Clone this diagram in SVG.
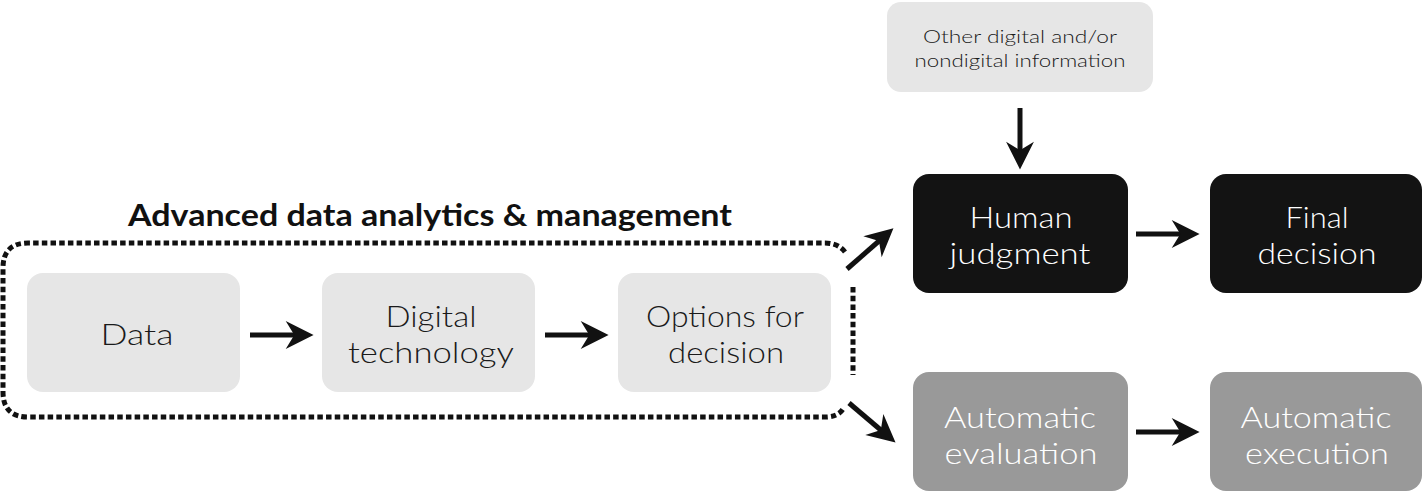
<svg xmlns="http://www.w3.org/2000/svg" width="1425" height="492" viewBox="0 0 1425 492">
<defs>
<style>
.light{fill:#e6e6e6}
.dark{fill:#131313}
.grey{fill:#999999}
.t{font-family:Lato,"Open Sans","Liberation Sans",sans-serif;font-weight:300;font-size:29px;text-anchor:middle}
.tl{fill:#1a1a1a}
.tw{fill:#ffffff}
.small{font-size:18px}
.title{font-family:Lato,"Liberation Sans",sans-serif;font-weight:700;font-size:30px;fill:#111}
.conn{stroke:#111;stroke-width:5;fill:none}
.dot{stroke:#111;stroke-width:5;fill:none;stroke-dasharray:5.5 3.2}
</style>
<marker id="ah" markerUnits="userSpaceOnUse" markerWidth="30" markerHeight="30" viewBox="-1 -14 28 28" refX="18" refY="0" orient="auto">
<path d="M0,-13 L26,0 L0,13 L8,0 z" fill="#111"/>
</marker>
</defs>
<rect width="1425" height="492" fill="#ffffff"/>

<g id="group-adm">
<text class="title" x="128" y="226" textLength="604" lengthAdjust="spacingAndGlyphs">Advanced data analytics &amp; management</text>
<path class="dot" d="M845,252 Q838,243 825,243 H28 Q3,243 3,268 V392 Q3,417 28,417 H825 Q838,417 843,409"/>
<path class="dot" d="M853,287 V375"/>
</g>

<g id="node-data">
<rect class="light" x="27" y="273" width="213" height="119" rx="16"/>
<text class="t tl" x="137" y="345" textLength="73" lengthAdjust="spacingAndGlyphs">Data</text>
</g>

<g id="node-digital">
<rect class="light" x="322" y="273" width="213" height="119" rx="16"/>
<text class="t tl" x="431" y="327" textLength="91" lengthAdjust="spacingAndGlyphs">Digital</text>
<text class="t tl" x="431" y="363" textLength="166" lengthAdjust="spacingAndGlyphs">technology</text>
</g>

<g id="node-options">
<rect class="light" x="618" y="273" width="213" height="119" rx="16"/>
<text class="t tl" x="725" y="327" textLength="158" lengthAdjust="spacingAndGlyphs">Options for</text>
<text class="t tl" x="726" y="363" textLength="116" lengthAdjust="spacingAndGlyphs">decision</text>
</g>

<g id="node-other">
<rect class="light" x="887" y="2" width="266" height="90" rx="14"/>
<text class="t tl small" x="1020" y="43" textLength="194" lengthAdjust="spacingAndGlyphs">Other digital and/or</text>
<text class="t tl small" x="1020" y="67" textLength="211" lengthAdjust="spacingAndGlyphs">nondigital information</text>
</g>

<g id="node-human">
<rect class="dark" x="913" y="174" width="215" height="119" rx="16"/>
<text class="t tw" x="1021" y="228" textLength="103" lengthAdjust="spacingAndGlyphs">Human</text>
<text class="t tw" x="1020" y="264" textLength="141" lengthAdjust="spacingAndGlyphs">judgment</text>
</g>

<g id="node-final">
<rect class="dark" x="1210" y="174" width="212" height="119" rx="16"/>
<text class="t tw" x="1317" y="228" textLength="63" lengthAdjust="spacingAndGlyphs">Final</text>
<text class="t tw" x="1317" y="264" textLength="119" lengthAdjust="spacingAndGlyphs">decision</text>
</g>

<g id="node-autoeval">
<rect class="grey" x="913" y="372" width="215" height="119" rx="16"/>
<text class="t tw" x="1020" y="428" textLength="152" lengthAdjust="spacingAndGlyphs">Automatic</text>
<text class="t tw" x="1021" y="464" textLength="153" lengthAdjust="spacingAndGlyphs">evaluation</text>
</g>

<g id="node-autoexec">
<rect class="grey" x="1210" y="372" width="212" height="119" rx="16"/>
<text class="t tw" x="1316" y="428" textLength="151" lengthAdjust="spacingAndGlyphs">Automatic</text>
<text class="t tw" x="1317" y="464" textLength="144" lengthAdjust="spacingAndGlyphs">execution</text>
</g>

<g id="connectors">
<line class="conn" x1="250" y1="335" x2="305" y2="335" marker-end="url(#ah)"/>
<line class="conn" x1="545" y1="335" x2="600" y2="335" marker-end="url(#ah)"/>
<line class="conn" x1="1020" y1="108" x2="1020" y2="161" marker-end="url(#ah)"/>
<line class="conn" x1="1136" y1="234" x2="1191" y2="234" marker-end="url(#ah)"/>
<line class="conn" x1="1136" y1="432" x2="1191" y2="432" marker-end="url(#ah)"/>
<line class="conn" x1="847" y1="269" x2="887" y2="234" marker-end="url(#ah)"/>
<line class="conn" x1="849" y1="403" x2="889" y2="437" marker-end="url(#ah)"/>
</g>
</svg>
